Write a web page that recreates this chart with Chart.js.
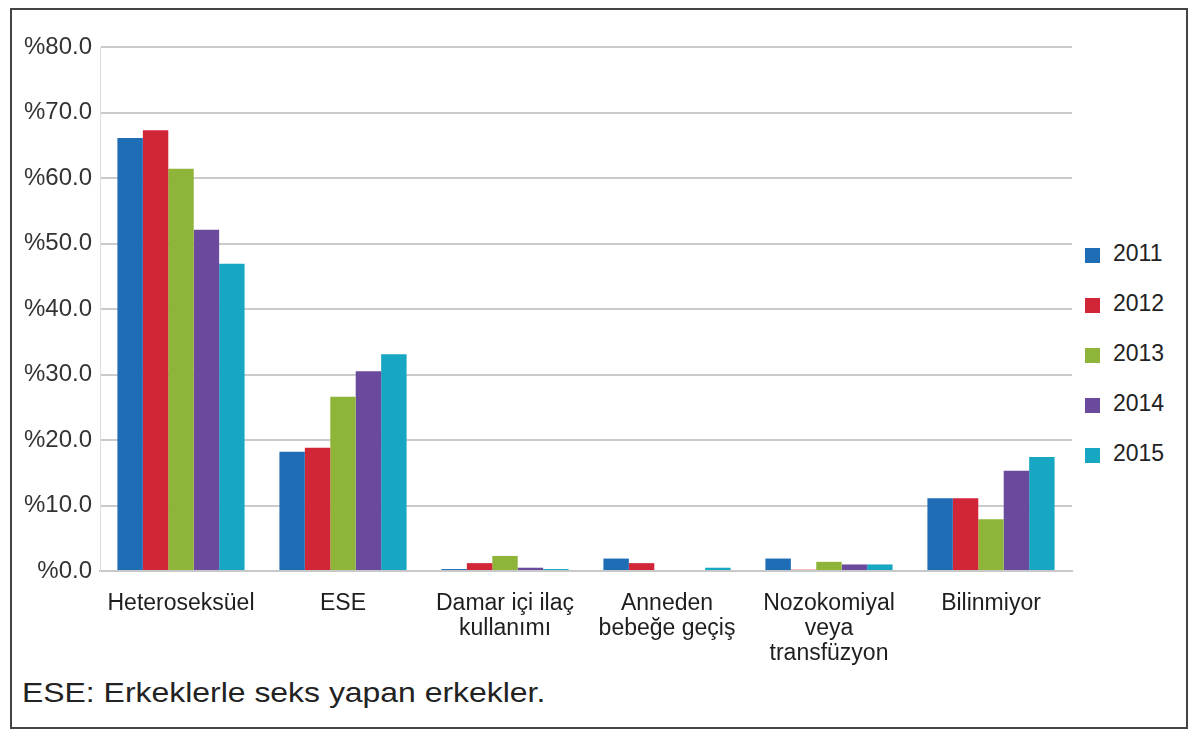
<!DOCTYPE html>
<html>
<head>
<meta charset="utf-8">
<script src="https://cdn.jsdelivr.net/npm/chart.js@4/dist/chart.umd.min.js"></script>
<style>
  body { margin: 0; background: #fff; width: 1200px; height: 731px; overflow: hidden; font-family: "Liberation Sans", Arial, sans-serif; }
  #frame { position: absolute; left: 10px; top: 8px; width: 1174px; height: 717px; border: 2px solid #444; }
  #wrap { position: absolute; left: 12px; top: 20px; width: 1062px; height: 646px; }
  #legend { position: absolute; left: 1085px; top: 240px; }
  .item { height: 50px; display: flex; align-items: flex-start; color: #222; font-size: 23px; }
  .box { width: 15px; height: 15px; margin-top: 8px; margin-right: 13px; }
  #note { position: absolute; left: 22px; top: 677px; font-size: 28px; color: #222; transform: scaleX(1.14); transform-origin: left top; white-space: nowrap; }
</style>
</head>
<body>
<div id="frame"></div>
<div id="wrap"><canvas id="chart"></canvas></div>
<div id="legend"></div>
<div id="note">ESE: Erkeklerle seks yapan erkekler.</div>
<script>
// Kategoriler (çok satırlı etiketler dizi olarak)
const categories = [
    ['Heteroseksüel'],
    ['ESE'],
    ['Damar içi ilaç', 'kullanımı'],
    ['Anneden', 'bebeğe geçiş'],
    ['Nozokomiyal', 'veya', 'transfüzyon'],
    ['Bilinmiyor']
];

const years = ['2011', '2012', '2013', '2014', '2015'];
const colors = ['#1f6db5', '#d12638', '#8fb43a', '#6a4a9c', '#17a7c2'];

// Yüzde değerleri, yıllara göre
const values2011 = [66.1, 18.2, 0.3, 1.9, 1.9, 11.1];
const values2012 = [67.3, 18.8, 1.2, 1.2, 0.2, 11.1];
const values2013 = [61.4, 26.6, 2.3, 0.0, 1.4, 7.9];
const values2014 = [52.1, 30.5, 0.5, 0.0, 1.0, 15.3];
const values2015 = [46.9, 33.1, 0.3, 0.5, 1.0, 17.4];

const yTicks = [0, 10, 20, 30, 40, 50, 60, 70, 80];

const series = [values2011, values2012, values2013, values2014, values2015];

const datasets = series.map((vals, i) => ({
    label: years[i],
    data: vals,
    backgroundColor: colors[i],
    borderWidth: 0,
    categoryPercentage: 0.785,
    barPercentage: 1.0
}));

new Chart(document.getElementById('chart'), {
    type: 'bar',
    data: { labels: categories, datasets: datasets },
    options: {
        responsive: true,
        maintainAspectRatio: false,
        animation: false,
        layout: { padding: { top: 27, right: 2, left: 0, bottom: 0 } },
        plugins: {
            legend: { display: false },
            tooltip: { enabled: false }
        },
        scales: {
            x: {
                grid: { display: false },
                border: { color: '#c8c8c8', width: 2 },
                ticks: {
                    color: '#1e1e1e',
                    font: { family: 'Liberation Sans', size: 23, lineHeight: 1.09 },
                    padding: 12,
                    maxRotation: 0,
                    autoSkip: false
                },
                afterFit: (scale) => { scale.height = 95; }
            },
            y: {
                min: 0,
                max: 80,
                afterBuildTicks: (scale) => { scale.ticks = yTicks.map(v => ({ value: v })); },
                grid: { color: '#cbcbcb', lineWidth: 2, drawTicks: false },
                border: { color: '#dcdcdc', width: 1 },
                ticks: {
                    color: '#333',
                    font: { family: 'Liberation Sans', size: 24 },
                    padding: 8,
                    callback: (v) => '%' + v.toFixed(1)
                },
                afterFit: (scale) => { scale.width = 88; }
            }
        }
    }
});

// Lejant
const legend = document.getElementById('legend');
years.forEach((y, i) => {
    const item = document.createElement('div');
    item.className = 'item';
    item.innerHTML = '<span class="box" style="background:' + colors[i] + '"></span>' + y;
    legend.appendChild(item);
});
</script>
</body>
</html>
